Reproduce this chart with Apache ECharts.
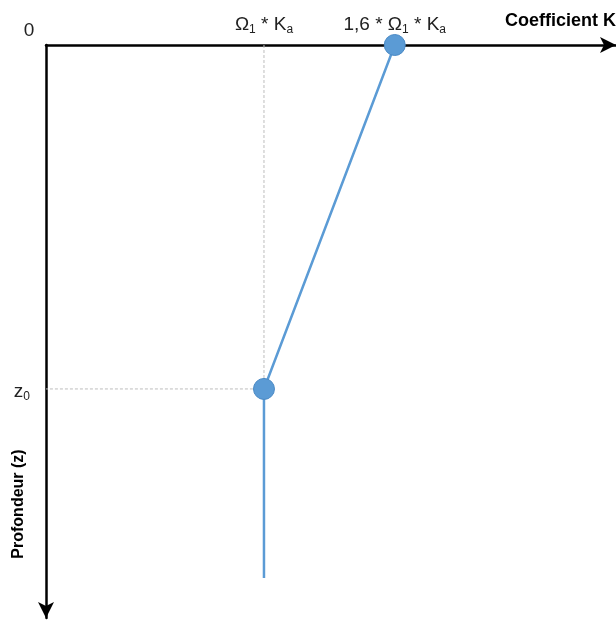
<!DOCTYPE html>
<html>
<head>
<meta charset="utf-8">
<script src="https://cdn.jsdelivr.net/npm/echarts@6/dist/echarts.min.js"></script>
<style>
  html, body { margin: 0; padding: 0; background: #fff; }
  #chart { width: 616px; height: 620px; }
</style>
</head>
<body>
<div id="chart"></div>
<script>
// Coefficient K as a function of depth z (units: Ω1*Ka on x, z0 on y)
const coeffTicks = [0, 1, 1.6];
const depthTicks = [1];
const profileK = [1.6, 1, 1];
const profileZ = [0, 1, 1.55];
const guideK = [1, 1, 0];
const guideZ = [0, 1, 1];
const markedPoints = [[1.6, 0], [1, 1]];

const FONT = 'Liberation Sans, Arial, sans-serif';

const chart = echarts.init(document.getElementById('chart'));

const profile = profileK.map((k, i) => [k, profileZ[i]]);
const guide = guideK.map((k, i) => [k, guideZ[i]]);

const xLabel = {
  0: '{z|0}',
  1: '{n|Ω}{s|1}{n| * K}{s|a}',
  1.6: '{n|1,6 * Ω}{s|1}{n| * K}{s|a}'
};

const xRich = {
  n: { fontFamily: FONT, fontSize: 19, color: '#222', lineHeight: 22 },
  z: { fontFamily: FONT, fontSize: 19, color: '#222', lineHeight: 10, padding: [0, 34, 0, 0] },
  s: { fontFamily: FONT, fontSize: 12, color: '#222', lineHeight: 22, padding: [9, 0, 0, 0] }
};

const yRich = {
  n: { fontFamily: FONT, fontSize: 19, color: '#222', lineHeight: 22, padding: [6, 0, 0, 0] },
  s: { fontFamily: FONT, fontSize: 12, color: '#222', lineHeight: 22, padding: [15, 0, 0, 0] }
};

chart.setOption({
  animation: false,
  grid: { left: 46, top: 45, width: 570, height: 573, containLabel: false, outerBoundsMode: 'none' },
  xAxis: {
    type: 'value',
    position: 'top',
    min: 0,
    max: 2.615,
    name: 'Coefficient K',
    nameLocation: 'end',
    nameGap: 0,
    nameTextStyle: {
      fontFamily: FONT, fontWeight: 'bold', fontSize: 18, color: '#000',
      align: 'right', verticalAlign: 'bottom', padding: [0, 0, 15, 0]
    },
    axisLine: {
      show: true, onZero: false,
      lineStyle: { color: '#000', width: 2.5 },
      symbol: ['none', 'arrow'], symbolSize: [12, 16]
    },
    axisTick: { show: false },
    splitLine: { show: false },
    axisLabel: {
      customValues: coeffTicks,
      margin: 9,
      formatter: v => xLabel[v] || '',
      rich: xRich
    }
  },
  yAxis: {
    type: 'value',
    inverse: true,
    min: 0,
    max: 1.666,
    name: 'Profondeur (z)',
    nameLocation: 'middle',
    nameGap: 19,
    nameRotate: 90,
    nameMoveOverlap: false,
    nameTextStyle: {
      fontFamily: FONT, fontWeight: 'bold', fontSize: 16, color: '#000',
      padding: [0, 345, 0, 0]
    },
    axisLine: {
      show: true, onZero: false,
      lineStyle: { color: '#000', width: 2.5 },
      symbol: ['arrow', 'none'], symbolSize: [12, 16]
    },
    axisTick: { show: false },
    splitLine: { show: false },
    axisLabel: {
      customValues: depthTicks,
      margin: 16,
      formatter: () => '{n|z}{s|0}',
      rich: yRich
    }
  },
  series: [
    {
      type: 'line',
      data: guide,
      symbol: 'none',
      lineStyle: { color: '#bdbdbd', width: 1, type: [3, 2] },
      silent: true,
      z: 1
    },
    {
      type: 'line',
      data: profile,
      symbol: 'none',
      lineStyle: { color: '#5b9bd5', width: 2.5 },
      z: 2
    },
    {
      type: 'scatter',
      data: markedPoints,
      symbol: 'circle',
      symbolSize: 21,
      itemStyle: { color: '#5b9bd5', borderColor: '#4a89c4', borderWidth: 1, opacity: 1 },
      z: 3
    }
  ]
});
</script>
</body>
</html>
